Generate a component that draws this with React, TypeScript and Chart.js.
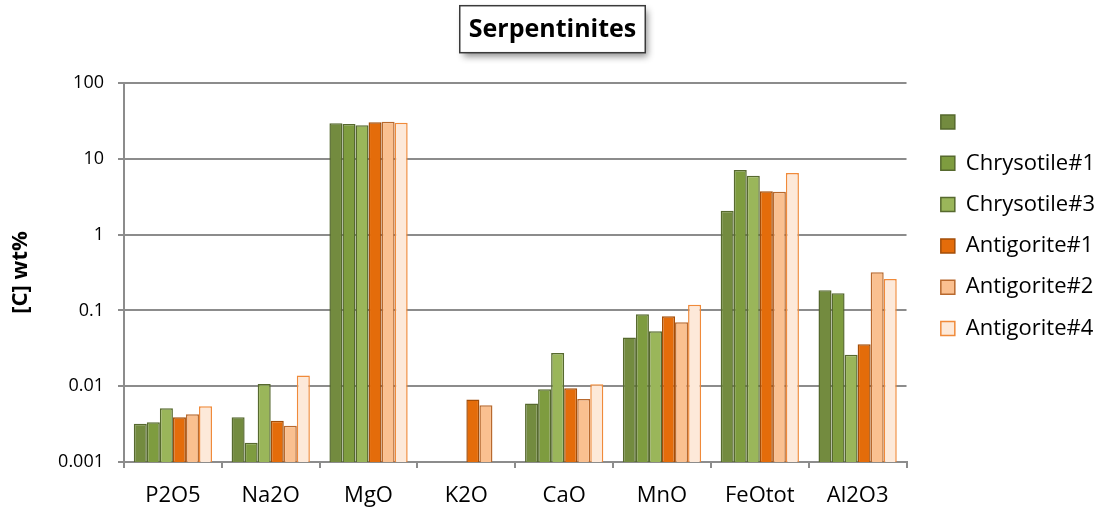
import React, { useEffect, useRef } from 'react';
import { Chart, registerables } from 'chart.js';

Chart.register(...registerables);

// ---- data ----
const categories = ['P2O5', 'Na2O', 'MgO', 'K2O', 'CaO', 'MnO', 'FeOtot', 'Al2O3'];
const seriesNames = ['', 'Chrysotile#1', 'Chrysotile#3', 'Antigorite#1', 'Antigorite#2', 'Antigorite#4'];
const unnamedSample = [0.0032, 0.0039, 29.4, null, 0.0059, 0.044, 2.07, 0.184];
const chrysotile1 = [0.00334, 0.0018, 28.8, null, 0.0091, 0.089, 7.1, 0.168];
const chrysotile3 = [0.0051, 0.0107, 27.7, null, 0.0274, 0.053, 5.98, 0.026];
const antigorite1 = [0.0039, 0.0035, 30.3, 0.0067, 0.0094, 0.084, 3.72, 0.0357];
const antigorite2 = [0.00426, 0.003, 30.9, 0.0056, 0.0068, 0.07, 3.68, 0.318];
const antigorite4 = [0.00543, 0.0138, 29.9, null, 0.0106, 0.119, 6.5, 0.26];
const yTickValues = [0.001, 0.01, 0.1, 1, 10, 100];
const yTickLabels = ['0.001', '0.01', '0.1', '1', '10', '100'];
const chartTitle = 'Serpentinites';
const yAxisTitle = '[C] wt%';

// ---- styles ----
const fills = ['#738B3F', '#7E9C3F', '#9AB65A', '#E46C0A', '#FAC090', '#FDE9D9'];
const borders = ['#56692E', '#56692E', '#56692E', '#A34D08', '#B8692E', '#F08A3A'];
const FONT = "'Open Sans', sans-serif";
const TITLE_SIZE = 25;
const TITLE_PAD_TOP = 15;

const titleBoxPlugin = {
  id: 'titleBox',
  beforeDraw(chart: any) {
    const tb = chart.titleBlock;
    if (!tb) return;
    const ctx = chart.ctx;
    ctx.save();
    ctx.font = `bold ${TITLE_SIZE}px ${FONT}`;
    const w = ctx.measureText(chartTitle).width;
    const cx = (tb.left + tb.right) / 2;
    const cy = tb.top + TITLE_PAD_TOP + (TITLE_SIZE * 1.2) / 2 - 0.8;
    const bw = w + 18;
    const bh = 47;
    ctx.shadowColor = 'rgba(0,0,0,0.45)';
    ctx.shadowBlur = 7;
    ctx.shadowOffsetX = 3;
    ctx.shadowOffsetY = 4;
    ctx.fillStyle = '#ffffff';
    ctx.fillRect(cx - bw / 2, cy - bh / 2, bw, bh);
    ctx.shadowColor = 'transparent';
    ctx.strokeStyle = '#3a3a3a';
    ctx.lineWidth = 1.5;
    ctx.strokeRect(cx - bw / 2, cy - bh / 2, bw, bh);
    ctx.restore();
  },
};

export default function App() {
  const canvasRef = useRef<HTMLCanvasElement | null>(null);

  useEffect(() => {
    document.body.style.margin = '0';
    const canvas = canvasRef.current;
    if (!canvas) return;
    Chart.defaults.font.family = FONT;
    Chart.defaults.color = '#000000';
    const seriesValues = [unnamedSample, chrysotile1, chrysotile3, antigorite1, antigorite2, antigorite4];
    const chart = new Chart(canvas, {
      type: 'bar',
      data: {
        labels: categories,
        datasets: seriesValues.map((vals, i) => ({
          label: seriesNames[i],
          data: vals,
          backgroundColor: fills[i],
          borderColor: borders[i],
          borderWidth: 1.5,
          categoryPercentage: 0.8,
          barPercentage: 1.0,
          yAxisID: 'y',
          xAxisID: 'x',
        })),
      },
      options: {
        animation: false,
        responsive: false,
        maintainAspectRatio: false,
        layout: { padding: { left: 0, right: 0, top: 0, bottom: 0 } },
        plugins: {
          tooltip: { enabled: false },
          title: {
            display: true,
            text: chartTitle,
            color: '#000000',
            font: { size: TITLE_SIZE, weight: 'bold', family: FONT, lineHeight: 1.2 },
            padding: { top: TITLE_PAD_TOP, bottom: 38 },
          },
          legend: {
            display: true,
            position: 'right',
            align: 'start',
            title: { display: true, text: ' ', font: { size: 10, lineHeight: 1 }, padding: { top: 81.7, bottom: 0 } },
            labels: {
              boxWidth: 14,
              boxHeight: 14,
              padding: 19.3,
              color: '#000000',
              font: { size: 22, family: FONT },
            },
          },
        },
        scales: {
          x: {
            type: 'category',
            offset: true,
            grid: { display: true, drawOnChartArea: false, tickLength: 6, color: '#8c8c8c', lineWidth: 2, offset: true },
            border: { display: true, color: '#8c8c8c', width: 2 },
            ticks: { font: { size: 22 }, padding: 15, color: '#000000', maxRotation: 0, autoSkip: false },
            afterFit: (s: any) => { s.height = 51; },
          },
          y: {
            type: 'logarithmic',
            position: 'left',
            min: 0.001,
            max: 100,
            afterBuildTicks: (s: any) => { s.ticks = yTickValues.map((v) => ({ value: v })); },
            ticks: {
              callback: (_v: any, i: number) => yTickLabels[i],
              font: { size: 18 },
              padding: 14,
              color: '#000000',
              autoSkip: false,
            },
            grid: { color: '#8c8c8c', lineWidth: 2, tickLength: 6 },
            border: { display: true, color: '#8c8c8c', width: 2 },
            title: {
              display: true,
              text: yAxisTitle,
              color: '#000000',
              font: { size: 22, weight: 'bold' },
              padding: { top: 8, bottom: 0 },
            },
            afterFit: (s: any) => { s.width = 124; },
          },
          gap: {
            type: 'linear',
            position: 'right',
            display: true,
            grid: { display: false },
            border: { display: false },
            ticks: { display: false },
            afterFit: (s: any) => { s.width = 15; },
          },
        },
      } as any,
      plugins: [titleBoxPlugin],
    });
    return () => chart.destroy();
  }, []);

  return (
    <div style={{ width: 1105, height: 513 }}>
      <canvas ref={canvasRef} width={1105} height={513} style={{ display: 'block' }} />
    </div>
  );
}
